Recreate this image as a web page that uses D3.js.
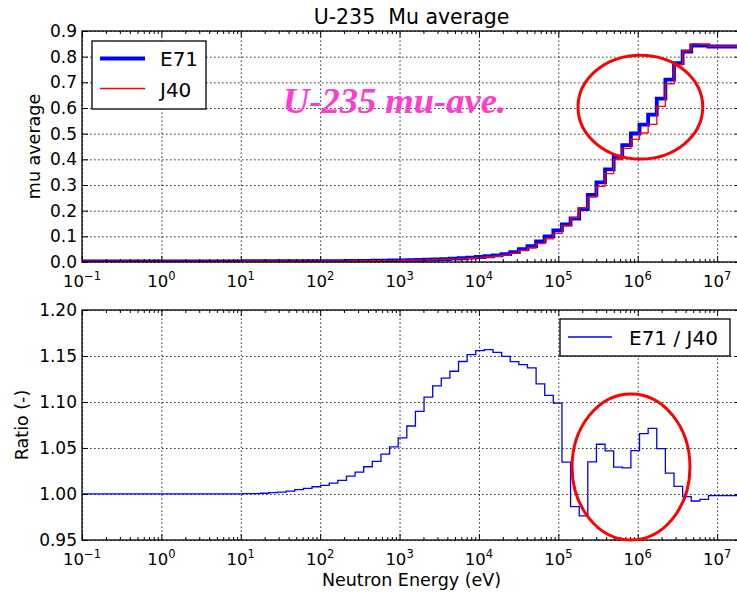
<!DOCTYPE html>
<html><head><meta charset="utf-8">
<script src="https://cdn.jsdelivr.net/npm/d3@7"></script>
<style>
body{margin:0;background:#fff}
svg{display:block}
text{font-family:"DejaVu Sans",sans-serif;fill:#000}
text.note{font-family:"Liberation Serif","Times New Roman",serif;font-style:italic;font-weight:bold;fill:#ff3ccc}
text.title{white-space:pre}
</style>
</head><body>
<svg id="c" width="737" height="593"></svg>
<script>
// Group boundaries (eV), descending
const energyEdges = [2.0e7, 1.0e7, 7.788e6, 6.065e6, 4.724e6, 3.679e6, 2.865e6, 2.231e6, 1.738e6, 1.353e6,
  1.054e6, 8.209e5, 6.393e5, 4.979e5, 3.877e5, 3.020e5, 2.352e5, 1.832e5, 1.426e5, 1.111e5,
  8.652e4, 6.738e4, 5.248e4, 4.087e4, 3.183e4, 2.479e4, 1.931e4, 1.503e4, 1.171e4, 9119,
  7102, 5531, 4307, 3355, 2613, 2035, 1585, 1234, 961.1, 748.5,
  583.0, 454.0, 353.6, 275.4, 214.4, 167.0, 130.1, 101.3, 78.89, 61.44,
  47.85, 37.27, 29.02, 22.60, 17.60, 13.71, 10.68, 0.1];
// Mu average per group (same order as the boundaries)
const muE71 = [0.8396, 0.8396, 0.8435, 0.8435, 0.8202, 0.7749, 0.7102, 0.6365, 0.5744, 0.5356,
  0.5007, 0.4554, 0.4101, 0.3609, 0.3105, 0.2613, 0.2057, 0.1695, 0.1462, 0.1229,
  0.0996, 0.0802, 0.0621, 0.0505, 0.0388, 0.0310, 0.0259, 0.0225, 0.0195, 0.0168,
  0.0146, 0.0128, 0.0113, 0.0100, 0.0089, 0.0080, 0.0072, 0.0065, 0.0059, 0.0054,
  0.0050, 0.0046, 0.0043, 0.0040, 0.0038, 0.0036, 0.0035, 0.0034, 0.0033, 0.0032,
  0.0031, 0.0030, 0.0030, 0.0029, 0.0029, 0.0029, 0.0028];
const muJ40 = [0.8411, 0.8411, 0.8484, 0.8500, 0.8226, 0.7685, 0.6944, 0.6065, 0.5361, 0.5026,
  0.4781, 0.4428, 0.3985, 0.3447, 0.2946, 0.2525, 0.2107, 0.1719, 0.1413, 0.1118,
  0.0900, 0.0716, 0.0546, 0.0443, 0.0339, 0.0270, 0.0224, 0.0194, 0.0169, 0.0146,
  0.0128, 0.0113, 0.0100, 0.0089, 0.0081, 0.0073, 0.0067, 0.0061, 0.0056, 0.0052,
  0.0048, 0.0045, 0.0042, 0.0039, 0.0037, 0.0036, 0.0035, 0.0034, 0.0033, 0.0032,
  0.0031, 0.0030, 0.0030, 0.0029, 0.0029, 0.0029, 0.0028];
const ratioE71J40 = [0.9982, 0.9982, 0.9942, 0.9924, 0.9971, 1.0083, 1.0227, 1.0494, 1.0714, 1.0656,
  1.0472, 1.0285, 1.0292, 1.0469, 1.0541, 1.0350, 0.9762, 0.9863, 1.0346, 1.0988,
  1.1071, 1.1197, 1.1370, 1.1406, 1.1439, 1.1496, 1.1540, 1.1569, 1.1558, 1.1514,
  1.1440, 1.1334, 1.1260, 1.1175, 1.1053, 1.0898, 1.0739, 1.0609, 1.0512, 1.0433,
  1.0354, 1.0296, 1.0238, 1.0195, 1.0148, 1.0119, 1.0094, 1.0079, 1.0061, 1.0047,
  1.0032, 1.0021, 1.0014, 1.0008, 1.0005, 1.0003, 1.0001];

const muTicks = [0.0, 0.1, 0.2, 0.3, 0.4, 0.5, 0.6, 0.7, 0.8, 0.9];
const ratioTicks = [0.95, 1.00, 1.05, 1.10, 1.15, 1.20];
const decadeExponents = [-1, 0, 1, 2, 3, 4, 5, 6, 7];
const seriesNames = ["E71", "J40"];
const ratioName = "E71 / J40";
const titleText = "U-235  Mu average";
const noteText = "U-235 mu-ave.";
// highlighted regions (data coordinates)
const topHighlight = {eLo: 1.77e5, eHi: 6.6e6, vLo: 0.401, vHi: 0.806};
const bottomHighlight = {eLo: 1.49e5, eHi: 4.55e6, vLo: 0.95, vHi: 1.1087};

const svg = d3.select('#c');
const L = 82, R = 741, T1 = 31, B1 = 262, T2 = 310, B2 = 540;
const x = d3.scaleLog().domain([0.1, 2e7]).range([L, R]);
const y1 = d3.scaleLinear().domain([0, 0.9]).range([B1, T1]);
const y2 = d3.scaleLinear().domain([0.95, 1.2]).range([B2, T2]);

const minorTicks = [];
decadeExponents.forEach(e => { for (let m = 2; m <= 9; m++) { const v = m * Math.pow(10, e); if (v < 2e7) minorTicks.push(v); } });
const majorTicks = decadeExponents.map(e => Math.pow(10, e));

function stepPoints(vals) {
  const pts = [];
  for (let j = vals.length - 1; j >= 0; j--) {
    pts.push([energyEdges[j + 1], vals[j]]);
    pts.push([energyEdges[j], vals[j]]);
  }
  return pts;
}

function panel(T, B, y, yTicks, id) {
  const g = svg.append('g');
  svg.append('clipPath').attr('id', id).append('rect')
    .attr('x', L).attr('y', T).attr('width', R - L).attr('height', B - T);
  g.append('g').attr('transform', `translate(0,${B})`)
    .call(d3.axisBottom(x).tickValues(majorTicks).tickSize(-(B - T)).tickFormat(''))
    .call(s => s.select('.domain').remove())
    .selectAll('line').attr('stroke', '#000').attr('stroke-width', 0.8).attr('stroke-dasharray', '1.6,2.4');
  g.append('g').attr('transform', `translate(${L},0)`)
    .call(d3.axisLeft(y).tickValues(yTicks).tickSize(-(R - L)).tickFormat(''))
    .call(s => s.select('.domain').remove())
    .selectAll('line').attr('stroke', '#000').attr('stroke-width', 0.8).attr('stroke-dasharray', '1.6,2.4');
  return svg.append('g').attr('clip-path', `url(#${id})`);
}

function frame(T, B, y, yTicks, fmt) {
  const g = svg.append('g');
  const tickStyle = s => { s.select('.domain').remove(); s.selectAll('line').attr('stroke', '#000').attr('stroke-width', 1); };
  g.append('g').attr('transform', `translate(0,${B})`)
    .call(d3.axisBottom(x).tickValues(majorTicks).tickSizeInner(-6).tickSizeOuter(0).tickFormat('')).call(tickStyle);
  g.append('g').attr('transform', `translate(0,${B})`)
    .call(d3.axisBottom(x).tickValues(minorTicks).tickSizeInner(-3).tickSizeOuter(0).tickFormat('')).call(tickStyle);
  g.append('g').attr('transform', `translate(0,${T})`)
    .call(d3.axisTop(x).tickValues(majorTicks).tickSizeInner(-6).tickSizeOuter(0).tickFormat('')).call(tickStyle);
  g.append('g').attr('transform', `translate(0,${T})`)
    .call(d3.axisTop(x).tickValues(minorTicks).tickSizeInner(-3).tickSizeOuter(0).tickFormat('')).call(tickStyle);
  const ya = g.append('g').attr('transform', `translate(${L},0)`)
    .call(d3.axisLeft(y).tickValues(yTicks).tickSizeInner(-6).tickSizeOuter(0).tickPadding(5).tickFormat(d3.format(fmt)))
    .call(tickStyle);
  ya.selectAll('text').attr('font-size', 17).attr('fill', '#000');
  g.append('g').attr('transform', `translate(${R},0)`)
    .call(d3.axisRight(y).tickValues(yTicks).tickSizeInner(-6).tickSizeOuter(0).tickFormat('')).call(tickStyle);
  g.append('rect').attr('x', L).attr('y', T).attr('width', R - L).attr('height', B - T)
    .attr('fill', 'none').attr('stroke', '#000').attr('stroke-width', 1.3);
  const lab = g.append('g');
  decadeExponents.forEach(e => {
    const t = lab.append('text').attr('x', x(Math.pow(10, e))).attr('y', B + 25)
      .attr('text-anchor', 'middle').attr('font-size', 16.5);
    t.append('tspan').text('10');
    t.append('tspan').attr('font-size', 11.5).attr('dy', -7.5).text(e < 0 ? '\u2212' + (-e) : String(e));
  });
}

const line = (ys) => d3.line().x(d => x(d[0])).y(d => ys(d[1]));

// ---------- top panel ----------
const c1 = panel(T1, B1, y1, muTicks, 'clipTop');
c1.append('path').datum(stepPoints(muE71)).attr('d', line(y1))
  .attr('fill', 'none').attr('stroke', '#0000ff').attr('stroke-width', 3.8);
c1.append('path').datum(stepPoints(muJ40)).attr('d', line(y1))
  .attr('fill', 'none').attr('stroke', '#ff0000').attr('stroke-width', 1.3);
frame(T1, B1, y1, muTicks, '.1f');

// ---------- bottom panel ----------
const c2 = panel(T2, B2, y2, ratioTicks, 'clipBot');
c2.append('path').datum(stepPoints(ratioE71J40)).attr('d', line(y2))
  .attr('fill', 'none').attr('stroke', '#0000ff').attr('stroke-width', 1.3);
frame(T2, B2, y2, ratioTicks, '.2f');

// title & labels
svg.append('text').attr('class', 'title').attr('xml:space', 'preserve')
  .attr('x', (L + R) / 2).attr('y', 24).attr('text-anchor', 'middle')
  .attr('font-size', 20.5).text(titleText);
svg.append('text').attr('transform', `translate(40,${(T1 + B1) / 2}) rotate(-90)`).attr('text-anchor', 'middle')
  .attr('font-size', 17.5).text('mu average');
svg.append('text').attr('transform', `translate(27.5,${(T2 + B2) / 2}) rotate(-90)`).attr('text-anchor', 'middle')
  .attr('font-size', 17.5).text('Ratio (-)');
svg.append('text').attr('x', (L + R) / 2).attr('y', 586).attr('text-anchor', 'middle')
  .attr('font-size', 17.5).text('Neutron Energy (eV)');

// annotation
svg.append('text').attr('class', 'note').attr('x', x(34)).attr('y', y1(0.582))
  .attr('font-size', 36.5).text(noteText);

// ellipses
function ellipse(h, y) {
  const x0 = x(h.eLo), x1 = x(h.eHi), yt = y(h.vHi), yb = y(h.vLo);
  svg.append('ellipse').attr('cx', (x0 + x1) / 2).attr('cy', (yt + yb) / 2)
    .attr('rx', (x1 - x0) / 2).attr('ry', (yb - yt) / 2)
    .attr('fill', 'none').attr('stroke', '#ff0000').attr('stroke-width', 3);
}
ellipse(topHighlight, y1);
ellipse(bottomHighlight, y2);

// legends
const lg1 = svg.append('g');
lg1.append('rect').attr('x', 92).attr('y', 41).attr('width', 114).attr('height', 68)
  .attr('fill', '#fff').attr('stroke', '#000').attr('stroke-width', 1.3);
lg1.append('line').attr('x1', 100).attr('x2', 145).attr('y1', 58.5).attr('y2', 58.5)
  .attr('stroke', '#0000ff').attr('stroke-width', 3.8);
lg1.append('line').attr('x1', 100).attr('x2', 145).attr('y1', 88.5).attr('y2', 88.5)
  .attr('stroke', '#ff0000').attr('stroke-width', 1.3);
lg1.append('text').attr('x', 160).attr('y', 66).attr('font-size', 20).text(seriesNames[0]);
lg1.append('text').attr('x', 160).attr('y', 96.5).attr('font-size', 20).text(seriesNames[1]);

const lg2 = svg.append('g');
lg2.append('rect').attr('x', 560).attr('y', 319).attr('width', 170).attr('height', 37)
  .attr('fill', '#fff').attr('stroke', '#000').attr('stroke-width', 1.3);
lg2.append('line').attr('x1', 568).attr('x2', 612).attr('y1', 337).attr('y2', 337)
  .attr('stroke', '#0000ff').attr('stroke-width', 1.3);
lg2.append('text').attr('x', 629).attr('y', 344.5).attr('font-size', 20).text(ratioName);
</script>
</body></html>
